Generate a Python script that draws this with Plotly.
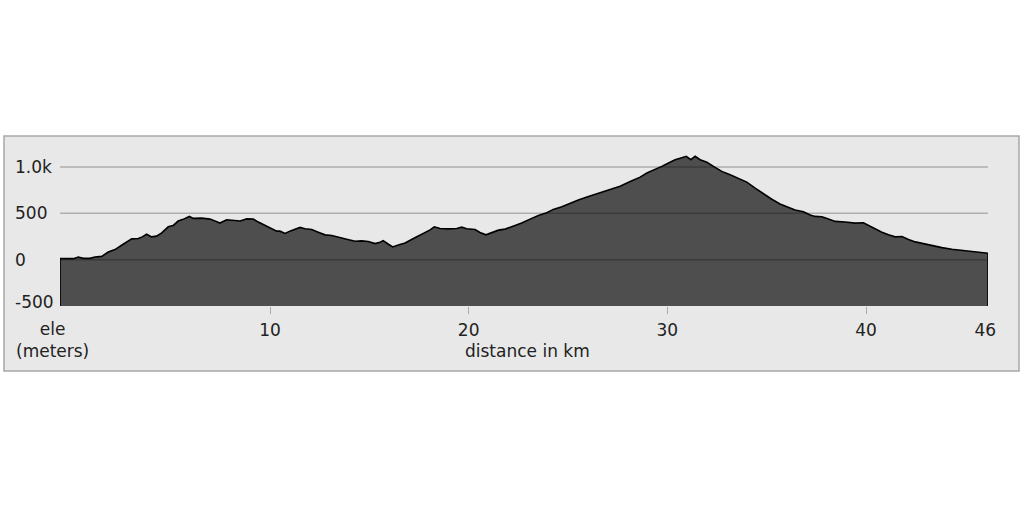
import plotly.graph_objects as go

# elevation profile
distance_km = [-0.57, 0.1, 0.35, 0.6, 0.94, 1.19, 1.53, 1.86, 2.2, 2.53, 2.78, 3.04, 3.37, 3.57, 3.79,
               4.04, 4.29, 4.55, 4.88, 5.13, 5.38, 5.63, 5.94, 6.14, 6.56, 6.98, 7.23, 7.48, 7.82,
               8.15, 8.49, 8.83, 9.16, 9.41, 9.75, 10.09, 10.34, 10.5, 10.76, 11.0, 11.26, 11.51,
               11.76, 12.1, 12.43, 12.77, 13.11, 13.52, 13.86, 14.28, 14.62, 14.95, 15.29, 15.54,
               15.7, 15.96, 16.18, 16.46, 16.8, 17.22, 17.56, 17.8, 18.06, 18.27, 18.56, 18.98,
               19.4, 19.65, 19.9, 20.32, 20.57, 20.87, 21.16, 21.5, 21.83, 22.25, 22.67, 23.09,
               23.51, 23.93, 24.26, 24.69, 25.1, 25.52, 26.03, 26.53, 26.95, 27.37, 27.62, 28.13,
               28.63, 28.97, 29.39, 29.72, 30.06, 30.39, 30.73, 30.95, 31.18, 31.4, 31.65, 31.99,
               32.32, 32.74, 33.16, 33.58, 34.0, 34.42, 34.83, 35.26, 35.67, 36.1, 36.43, 36.85,
               37.19, 37.44, 37.78, 38.11, 38.45, 38.95, 39.46, 39.87, 40.13, 40.46, 40.8, 41.13,
               41.47, 41.81, 42.14, 42.48, 42.9, 43.32, 43.82, 44.32, 44.83, 45.33, 45.84, 46.14]
elevation_m = [12, 11, 29, 14, 14, 29, 36, 83, 109, 156, 192, 225, 228, 246, 275,
               246, 254, 290, 355, 370, 417, 435, 467, 446, 449, 438, 417, 395, 431,
               428, 418, 440, 438, 406, 370, 330, 308, 308, 283, 308, 326, 348,
               333, 326, 297, 268, 261, 235, 221, 199, 203, 196, 174, 188,
               206, 167, 138, 159, 181, 228, 264, 295, 322, 355, 337, 333,
               337, 351, 333, 326, 293, 268, 290, 319, 330, 362, 395, 438,
               478, 507, 543, 572, 609, 645, 681, 714, 743, 775, 793, 844,
               891, 935, 971, 1007, 1043, 1079, 1101, 1116, 1079, 1116, 1079, 1051,
               1007, 953, 917, 880, 837, 772, 710, 652, 601, 565, 536, 518,
               482, 467, 464, 438, 413, 406, 395, 399, 370, 341, 297, 268,
               246, 250, 217, 192, 170, 152, 130, 112, 98, 87, 76, 69]

y_floor = -500
y_top = 1184
grid_values = [0, 500, 1000]
y_tick_labels = ["-500", "0", "500", "1.0k"]
y_tick_values = [-500, 0, 500, 1000]
x_tick_values = [10, 20, 30, 40, 46]

# close the polygon down to the floor of the chart so it gets an outline all round
poly_x = [distance_km[0]] + distance_km + [distance_km[-1]]
poly_y = [y_floor] + elevation_m + [y_floor]

fig = go.Figure()
fig.add_trace(go.Scatter(x=poly_x, y=poly_y, mode="lines", fill="toself",
                         fillcolor="#4e4e4e", line=dict(color="black", width=1.6),
                         hoverinfo="skip", showlegend=False))

font = dict(family="DejaVu Sans", size=17, color="#222222")

# plot area sits at 60..988 px across and 150..306 px down
def px_x(p):
    return (p - 60) / 928.0

def px_y(p):
    return (306 - p) / 156.0

shapes = [dict(type="rect", xref="paper", yref="paper", layer="below",
               x0=px_x(4), x1=px_x(1019), y0=px_y(371), y1=px_y(136),
               fillcolor="#e8e8e8", line=dict(color="#a8a8a8", width=1.5))]
for g in grid_values:
    shapes.append(dict(type="line", xref="paper", yref="y", layer="above",
                       x0=0, x1=1, y0=g, y1=g,
                       line=dict(color="rgba(0,0,0,0.25)", width=1.5)))

annotations = []
for lab, val in zip(y_tick_labels, y_tick_values):
    yy = val if val > y_floor else val + 45
    annotations.append(dict(text=lab, xref="paper", yref="y", x=px_x(13), y=yy,
                            xanchor="left", yanchor="middle", showarrow=False, font=font))
annotations.append(dict(text="ele<br>(meters)", xref="paper", yref="paper", x=px_x(52),
                        y=px_y(340), xanchor="center", yanchor="middle", align="center",
                        showarrow=False, font=font))
annotations.append(dict(text="distance in km", xref="paper", yref="paper", x=px_x(527),
                        y=px_y(351), xanchor="center", yanchor="middle",
                        showarrow=False, font=font))

fig.update_layout(
    width=1024, height=509,
    margin=dict(l=60, r=36, t=150, b=203),
    paper_bgcolor="white", plot_bgcolor="rgba(0,0,0,0)",
    shapes=shapes, annotations=annotations,
    xaxis=dict(range=[distance_km[0], distance_km[-1]], showgrid=False, zeroline=False,
               showline=False, tickmode="array", tickvals=x_tick_values,
               ticks="", ticklabelstandoff=12, tickfont=font,
               minor=dict(tickmode="array", tickvals=x_tick_values[:-1], ticks="outside",
                          ticklen=7, tickcolor="#aaaaaa", tickwidth=1, showgrid=False)),
    yaxis=dict(range=[y_floor, y_top], showgrid=False, zeroline=False, showline=False,
               showticklabels=False, ticks=""),
)

# drop the browser's default 8px body margin so the figure sits at the page corner
fig.write_html("out.html", config={"displayModeBar": False},
               post_script="document.body.style.margin='0';document.body.style.overflow='hidden';")
